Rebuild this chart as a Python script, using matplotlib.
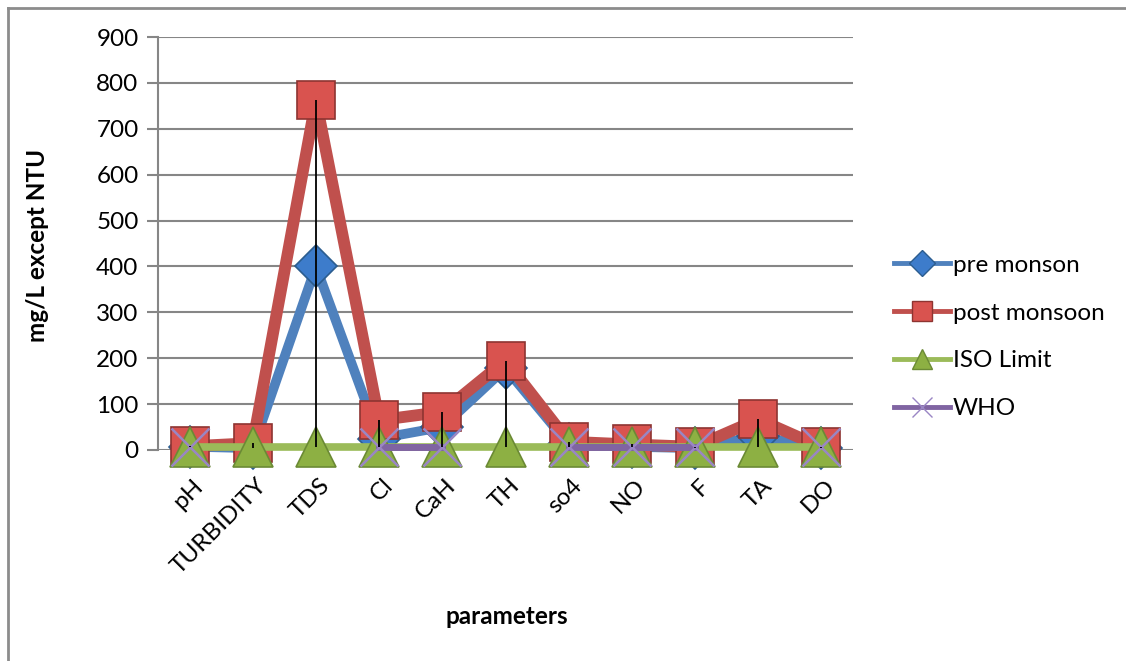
import numpy as np
import matplotlib
matplotlib.use("Agg")
import matplotlib.pyplot as plt
from matplotlib.lines import Line2D
from matplotlib.transforms import ScaledTranslation

plt.rcParams['font.family'] = ['Lato', 'DejaVu Sans']

categories = ["pH", "TURBIDITY", "TDS", "Cl", "CaH", "TH", "so4", "NO", "F", "TA", "DO"]
pre_monsoon = [7.2, 4, 400, 25, 50, 178, 12, 7, 4, 30, 5]
post_monsoon = [8, 15, 762, 65, 83, 195, 18, 12, 7, 67, 6]
iso_limit = [6.5, 6.5, 6.5, 6.5, 6.5, 6.5, 6.5, 6.5, 6.5, 6.5, 6.5]
who = [6.5, np.nan, np.nan, 6.5, 6.5, np.nan, 6.5, 6.5, 6.5, np.nan, 6.5]
y_ticks = [0, 100, 200, 300, 400, 500, 600, 700, 800, 900]

W, H = 1126, 661
fig = plt.figure(figsize=(W / 100, H / 100), dpi=100)
ax = fig.add_axes([158 / W, 1 - 450 / H, (853 - 158) / W, (450 - 37) / H])

x = np.arange(len(categories))
fs = 17.5
grid_col = "#868686"

styles = [
    dict(color="#4F81BD", lw=7, marker="D", ms=21, mfc="#3D7CCB", mec="#2C5D8F", mew=1.2),
    dict(color="#C0504D", lw=8.5, marker="s", ms=28, mfc="#D9534F", mec="#8E3431", mew=1.2),
    dict(color="#9BBB59", lw=5.5, marker="^", ms=29, mfc="#8DB043", mec="#6B8A35", mew=1.2),
    dict(color="#8064A2", lw=5, marker="x", ms=28, mec="#9A86C4", mew=1.8),
]
series = [pre_monsoon, post_monsoon, iso_limit, who]
labels = ["pre monson", "post monsoon", "ISO Limit", "WHO"]

for i, (vals, st) in enumerate(zip(series, styles)):
    ax.plot(x, vals, zorder=3 + i, clip_on=False, **st)

# high-low lines spanning all series at each category
allv = np.array(series, dtype=float)
lo = np.nanmin(allv, axis=0)
hi = np.nanmax(allv, axis=0)
ax.vlines(x, lo, hi, color="black", lw=1.3, zorder=8, clip_on=False)

ax.set_xlim(-0.5, len(categories) - 0.5)
ax.set_ylim(0, 900)
ax.set_yticks(y_ticks)
ax.set_yticklabels([str(v) for v in y_ticks], fontsize=fs)
ax.yaxis.grid(True, color=grid_col, lw=1.5)
ax.set_axisbelow(True)
ax.tick_params(axis="y", length=8, width=1.5, color=grid_col, pad=6)
ax.tick_params(axis="x", length=0, pad=18)

ax.set_xticks(x)
ax.set_xticklabels(categories, fontsize=fs, rotation=45, ha="right",
                   va="top", rotation_mode="anchor")
off = ScaledTranslation(3 / 100, 0, fig.dpi_scale_trans)
for lab in ax.get_xticklabels():
    lab.set_transform(lab.get_transform() + off)

for s in ["top", "right", "bottom"]:
    ax.spines[s].set_visible(False)
ax.spines["left"].set_color(grid_col)
ax.spines["left"].set_linewidth(1.5)

fig.text(38 / W, 1 - 245 / H, "mg/L except NTU", rotation=90, fontsize=fs,
         fontweight="bold", ha="center", va="center")
fig.text(507 / W, 1 - 617 / H, "parameters", fontsize=fs,
         fontweight="bold", ha="center", va="center")

# legend keys use thinner lines and smaller markers
leg_ms = [13, 14, 15, 15]
handles = []
for st, m in zip(styles, leg_ms):
    h = dict(st)
    h["lw"] = 3.5
    h["ms"] = m
    h["mew"] = 1.0
    handles.append(Line2D([], [], **h))
ax.legend(handles, labels, loc="center left", bbox_to_anchor=(882 / W, 1 - 337 / H),
          bbox_transform=fig.transFigure, frameon=False, fontsize=fs,
          handlelength=2.3, handletextpad=0.12, labelspacing=1.1, borderpad=0)

# outer chart frame (left and top edges)
fig.add_artist(Line2D([8 / W, 8 / W], [0, 1 - 8 / H], transform=fig.transFigure,
                      color="#8C8C8C", lw=2))
fig.add_artist(Line2D([8 / W, 1], [1 - 8 / H, 1 - 8 / H], transform=fig.transFigure,
                      color="#8C8C8C", lw=2))

fig.savefig("out.png", dpi=100)
